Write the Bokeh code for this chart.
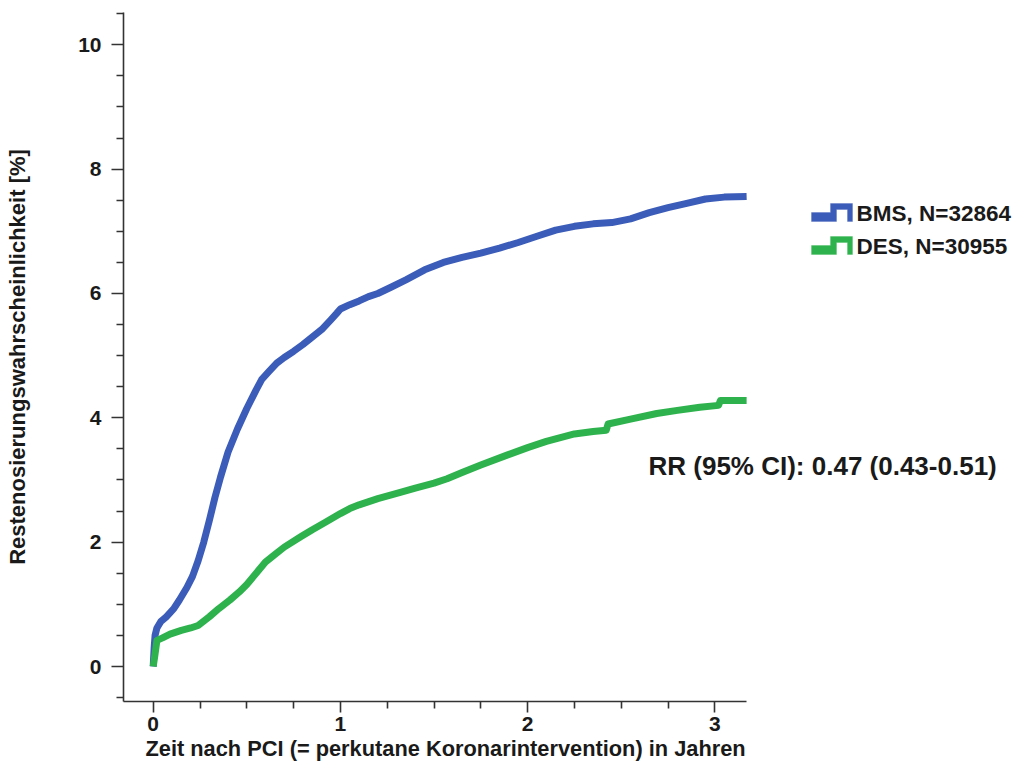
from bokeh.plotting import figure
from bokeh.models import Range1d, FixedTicker, Label, PolyAnnotation, Title
from bokeh.embed import file_html
from bokeh.resources import INLINE

# ---- data ----
bms_x = [0, 0.005, 0.01, 0.02, 0.04, 0.07, 0.11, 0.14, 0.18, 0.21, 0.24, 0.27, 0.30, 0.33, 0.36,
         0.40, 0.45, 0.50, 0.55, 0.58, 0.62, 0.66, 0.70, 0.75, 0.80, 0.85, 0.90, 0.95, 0.98,
         1.00, 1.05, 1.10, 1.15, 1.20, 1.27, 1.35, 1.45, 1.55, 1.65, 1.75, 1.85, 1.95, 2.05,
         2.15, 2.25, 2.35, 2.45, 2.55, 2.65, 2.75, 2.85, 2.95, 3.05, 3.17]
bms_y = [0, 0.3, 0.5, 0.62, 0.72, 0.8, 0.93, 1.07, 1.27, 1.45, 1.7, 2.0, 2.35, 2.72, 3.05,
         3.45, 3.82, 4.15, 4.45, 4.62, 4.75, 4.88, 4.97, 5.07, 5.18, 5.3, 5.42, 5.58, 5.68,
         5.75, 5.82, 5.88, 5.95, 6.0, 6.1, 6.22, 6.38, 6.5, 6.58, 6.65, 6.73, 6.82, 6.92,
         7.02, 7.08, 7.12, 7.14, 7.2, 7.3, 7.38, 7.45, 7.52, 7.55, 7.56]

des_x = [0, 0.01, 0.02, 0.05, 0.09, 0.15, 0.20, 0.24, 0.30, 0.35, 0.41, 0.46, 0.50, 0.55, 0.60,
         0.65, 0.70, 0.79, 0.85, 0.92, 1.00, 1.05, 1.10, 1.20, 1.32, 1.40, 1.50, 1.57, 1.65,
         1.75, 1.89, 2.00, 2.10, 2.16, 2.25, 2.35, 2.42, 2.43, 2.55, 2.69, 2.80, 2.92, 3.02,
         3.03, 3.17]
des_y = [0, 0.2, 0.42, 0.46, 0.52, 0.58, 0.62, 0.66, 0.8, 0.93, 1.07, 1.2, 1.32, 1.5, 1.68,
         1.8, 1.92, 2.09, 2.2, 2.32, 2.46, 2.54, 2.6, 2.7, 2.8, 2.87, 2.95, 3.02, 3.12,
         3.24, 3.4, 3.52, 3.62, 3.67, 3.74, 3.78, 3.8, 3.9, 3.98, 4.07, 4.12, 4.17, 4.2,
         4.28, 4.28]

x_ticks = [0, 1, 2, 3]
x_minor = [0.25, 0.5, 0.75, 1.25, 1.5, 1.75, 2.25, 2.5, 2.75]
y_ticks = [0, 2, 4, 6, 8, 10]
y_minor = [-0.5, 0.5, 1, 1.5, 2.5, 3, 3.5, 4.5, 5, 5.5, 6.5, 7, 7.5, 8.5, 9, 9.5, 10.5]

series_labels = ["BMS, N=32864", "DES, N=30955"]
rr_text = "RR (95% CI): 0.47 (0.43-0.51)"
x_label = "Zeit nach PCI (= perkutane Koronarintervention) in Jahren"
y_label = "Restenosierungswahrscheinlichkeit [%]"

BLUE = "#3B5CB8"
GREEN = "#2EB24D"
FONT = "Liberation Sans"
TXT = "#1a1a1a"

W, H = 1014, 764

# pixel (reference image) -> data helpers for annotation layout
X0, XS = 152.7, 187.2
Y0, YS = 666.0, 62.17
def dx(px):
    return (px - X0) / XS
def dy(py):
    return (Y0 - py) / YS

FL, FT, FB = 123, 12, 701   # frame left / top / bottom (px)
AX_RIGHT = 745.7            # end of the x axis line (px)

p = figure(width=W, height=H, output_backend="svg", toolbar_location=None,
           x_range=Range1d(dx(FL), dx(W)), y_range=Range1d(dy(FB), dy(FT)),
           min_border_left=FL, min_border_right=0, min_border_top=FT,
           min_border_bottom=H - FB)
p.title.visible = False
p.outline_line_color = None
p.xgrid.visible = False
p.ygrid.visible = False
p.background_fill_color = "white"
p.border_fill_color = "white"

p.line(x=bms_x, y=bms_y, line_color=BLUE, line_width=7, line_join="round", line_cap="butt")
p.line(x=des_x, y=des_y, line_color=GREEN, line_width=7, line_join="round", line_cap="butt")

for ax in (p.xaxis[0], p.yaxis[0]):
    ax.axis_line_color = "#333333"
    ax.axis_line_width = 1.6
    ax.major_tick_line_color = "#333333"
    ax.major_tick_line_width = 1.6
    ax.minor_tick_line_color = "#333333"
    ax.minor_tick_line_width = 1.6
    ax.major_tick_in = 0
    ax.major_tick_out = 12
    ax.minor_tick_in = 0
    ax.minor_tick_out = 7
    ax.major_label_text_font = FONT
    ax.major_label_text_font_style = "bold"
    ax.major_label_text_font_size = "21px"
    ax.major_label_text_color = TXT
    ax.axis_label_text_font = FONT
    ax.axis_label_text_font_style = "bold"
    ax.axis_label_text_font_size = "22px"
    ax.axis_label_text_color = TXT

p.xaxis[0].ticker = FixedTicker(ticks=x_ticks, minor_ticks=x_minor)
p.yaxis[0].ticker = FixedTicker(ticks=y_ticks, minor_ticks=y_minor)
p.xaxis[0].bounds = (dx(FL), dx(AX_RIGHT))
p.yaxis[0].axis_label = y_label
p.xaxis[0].major_tick_out = 11
p.xaxis[0].minor_tick_out = 7
p.xaxis[0].major_label_standoff = 4
p.yaxis[0].major_label_standoff = 10
p.yaxis[0].axis_label_standoff = 45

# x-axis title, left-aligned under the (bounded) x axis
p.add_layout(Title(text=x_label, align="left", offset=22, standoff=0,
                   text_font=FONT, text_font_style="bold", text_font_size="21.8px",
                   text_color=TXT), "below")

# legend (step-shaped icons + labels)
icon = [(811, 212), (830, 212), (830, 203), (852, 203), (852, 221), (847, 221),
        (847, 209), (836, 209), (836, 221), (811, 221)]
for i, (lab, col) in enumerate(zip(series_labels, [BLUE, GREEN])):
    off = 33 * i
    p.add_layout(PolyAnnotation(xs=[dx(a) for a, b in icon], ys=[dy(b + off) for a, b in icon],
                                fill_color=col, fill_alpha=1, line_color=col, line_width=1))
    p.add_layout(Label(x=dx(856), y=dy(213 + off), text=lab, text_font=FONT,
                       text_font_style="bold", text_font_size="22.5px", text_color=TXT,
                       text_baseline="middle", text_align="left"))

p.add_layout(Label(x=dx(648), y=dy(465), text=rr_text, text_font=FONT,
                   text_font_style="bold", text_font_size="26px", text_color=TXT,
                   text_baseline="middle", text_align="left"))

open("out.html", "w").write(file_html(p, INLINE))
